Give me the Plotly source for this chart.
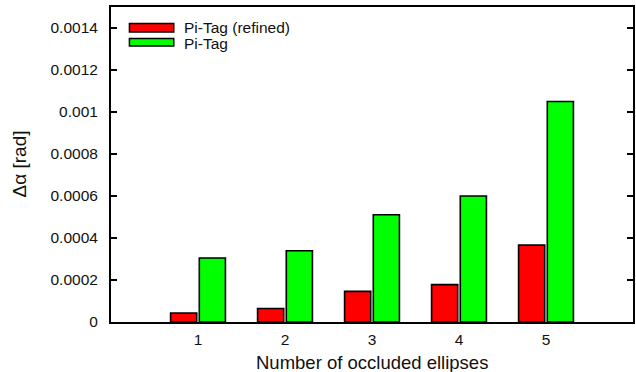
import plotly.graph_objects as go

categories = [1, 2, 3, 4, 5]
refined_values = [0.000043, 0.000064, 0.000146, 0.000178, 0.000366]
pitag_values = [0.000305, 0.000339, 0.000511, 0.000600, 0.001050]
series_names = ["Pi-Tag (refined)", "Pi-Tag"]
series_colors = ["#ff0000", "#00ff00"]
y_tick_vals = [0, 0.0002, 0.0004, 0.0006, 0.0008, 0.001, 0.0012, 0.0014]
y_tick_text = ["0", "0.0002", "0.0004", "0.0006", "0.0008", "0.001", "0.0012", "0.0014"]
x_tick_vals = [1, 2, 3, 4, 5]
x_tick_text = ["1", "2", "3", "4", "5"]

FONT = "Liberation Sans, Arial, sans-serif"
W, H = 636, 372
ML, MR, MT, MB = 111, 1, 7, 50
PW, PH = W - ML - MR, H - MT - MB

def px_x(px):
    return (px - ML) / PW

def px_y(py):
    return (H - MB - py) / PH

fig = go.Figure()
for name, vals, col in zip(series_names, [refined_values, pitag_values], series_colors):
    fig.add_trace(go.Bar(
        x=categories, y=vals, name=name,
        marker=dict(color=col, line=dict(color="#000000", width=1.6)),
        showlegend=False,
    ))

fig.update_layout(
    width=W, height=H,
    margin=dict(l=ML, r=MR, t=MT, b=MB, pad=0),
    paper_bgcolor="white", plot_bgcolor="white",
    barmode="group", bargap=0.34, bargroupgap=0.09,
    font=dict(family=FONT, size=15, color="#111111"),
)
fig.update_xaxes(
    range=[0, 6], tickvals=x_tick_vals, ticktext=x_tick_text,
    ticks="", showgrid=False, zeroline=False,
    showline=True, linecolor="black", linewidth=2, mirror=True,
    ticklabelstandoff=2, tickfont=dict(size=15.5),
)
fig.update_yaxes(
    range=[0, 0.0015], tickvals=y_tick_vals, ticktext=y_tick_text,
    ticks="inside", ticklen=6, tickwidth=2, tickcolor="black",
    showgrid=False, zeroline=False,
    showline=True, linecolor="black", linewidth=2, mirror="ticks",
    ticklabelstandoff=8, tickfont=dict(size=15.5),
)

# axis titles
fig.add_annotation(text="Number of occluded ellipses", xref="paper", yref="paper",
                   x=0.5, y=0, yshift=-40, xanchor="center", yanchor="middle",
                   showarrow=False, font=dict(size=18.5, family=FONT, color="#111111"))
fig.add_annotation(text="Δα [rad]", xref="paper", yref="paper",
                   x=0, y=0.5, xshift=-92, xanchor="center", yanchor="middle",
                   textangle=-90, showarrow=False,
                   font=dict(size=19, family=FONT, color="#111111"))

# legend (manual swatches)
legend_rows = [(23.5, 32, 28), (38.5, 46, 43)]
for (y0, y1, ty), name, col in zip(legend_rows, series_names, series_colors):
    fig.add_shape(type="rect", xref="paper", yref="paper",
                  x0=px_x(129.5), x1=px_x(174), y0=px_y(y1), y1=px_y(y0),
                  fillcolor=col, line=dict(color="black", width=1.5))
    fig.add_annotation(text=name, xref="paper", yref="paper",
                       x=px_x(182), y=px_y(ty), xanchor="left", yanchor="middle",
                       showarrow=False, font=dict(size=15.5, family=FONT, color="#111111"))

fig.write_html("out.html")
